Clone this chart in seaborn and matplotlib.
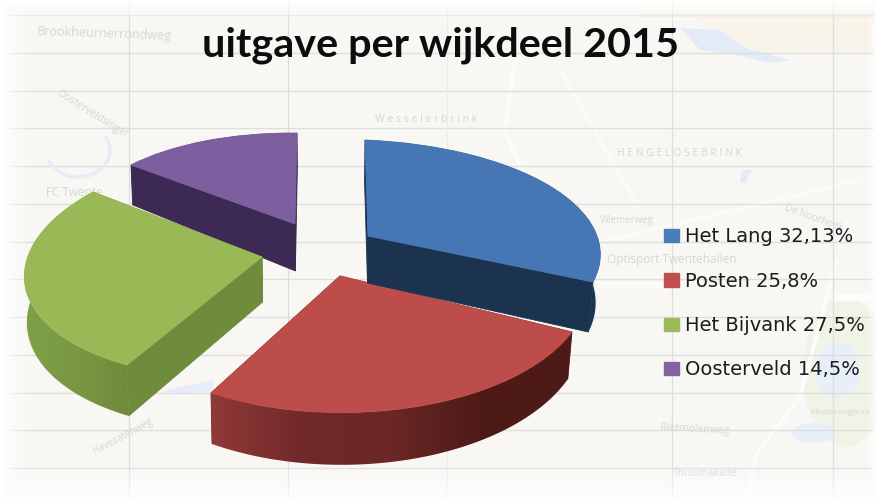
import numpy as np
import matplotlib
matplotlib.use("Agg")
import matplotlib.pyplot as plt
from matplotlib.patches import Ellipse, Polygon
from matplotlib.transforms import Transform
from matplotlib.colors import to_rgb, LinearSegmentedColormap
import seaborn as sns

# ---- data ----
wijken = ["Het Lang", "Posten", "Het Bijvank", "Oosterveld"]
aandeel = [32.13, 25.8, 27.5, 14.5]
aandeel_tekst = ["32,13%", "25,8%", "27,5%", "14,5%"]
titel = "uitgave per wijkdeel 2015"

# ---- styles ----
top_colors = ["#4776b4", "#bd4d4a", "#98b955", "#7d5fa0"]
legend_colors = ["#4a7ebb", "#c0504d", "#9bbb59", "#8064a2"]
wall_stops = [["#1c3556", "#1c3556"],
              ["#8f3a38", "#72292a", "#6a2726", "#4e1a17", "#4e1a17"],
              ["#7f9f48", "#7a9843", "#6f8b3c"],
              ["#3d2a54", "#3d2a54"]]
radial_colors = ["#1c3350", "#6a2826", "#6f8b3c", "#3d2a54"]
# perspective anchors in pixels: apex, arc start (theta2), arc end (theta1), arc middle
anchors = [[(368, 236), (365, 140), (593, 282), (548, 185)],
           [(340, 276), (572, 332), (211, 393), (420, 406)],
           [(262, 257), (127, 365), (93, 192), (25, 285)],
           [(295, 224), (131, 165), (297, 133), (205, 141)]]
depth_par = [(47, 236, 0.065), (51, 393, 0.065), (45, 257, 0.055), (47, 224, 0.12)]
draw_order = [3, 2, 1, 0]
map_labels = [("W e s s e l e r b r i n k", 375, 119, 0, 7.5), ("Brookheurnerrondweg", 37, 32, -2, 9),
              ("Oosterveldsingel", 57, 92, -32, 7.5), ("FC Twente", 46, 193, 0, 8.5),
              ("Optisport Twentehallen", 607, 260, 0, 8.5), ("H E N G E L O S E B R I N K", 617, 154, 0, 7.5),
              ("Rietmolenweg", 660, 428, -3, 7.5), ("Afvalbrengpunt", 810, 413, 0, 6),
              ("Havezatenweg", 93, 452, 28, 7), ("Wiemerweg", 600, 220, 0, 7),
              ("Thuismakade", 673, 474, 0, 7.5), ("De Noorhoek", 785, 208, -20, 7)]

sns.set_theme(style="white")
plt.rcParams["font.family"] = ["DejaVu Sans"]
W, H = 877, 503
fig = plt.figure(figsize=(W / 100, H / 100), dpi=100)
ax = fig.add_axes([0, 0, 1, 1])


class Homography(Transform):
    input_dims = output_dims = 2

    def __init__(self, m):
        super().__init__()
        self.m = m

    def transform_non_affine(self, xy):
        xy = np.asarray(xy, float)
        p = np.c_[xy, np.ones(len(xy))] @ self.m.T
        return p[:, :2] / p[:, 2:3]


def solve_h(src, dst):
    A, b = [], []
    for (x, y), (u, v) in zip(src, dst):
        A.append([x, y, 1, 0, 0, 0, -u * x, -u * y]); b.append(u)
        A.append([0, 0, 0, x, y, 1, -v * x, -v * y]); b.append(v)
    return np.r_[np.linalg.solve(np.array(A), np.array(b)), 1].reshape(3, 3)


# ---- slices from the values ----
wedges, _ = ax.pie(aandeel, startangle=90, counterclock=False, colors=top_colors,
                   wedgeprops=dict(linewidth=0.6), normalize=True)
ax.set_aspect("auto")
ax.set_xlim(0, W)
ax.set_ylim(H, 0)
ax.axis("off")

# ---- background ----
bg = np.ones((H, W, 3)) * np.array(to_rgb("#f8f7f4"))
ax.imshow(bg, extent=(0, W, H, 0), aspect="auto", zorder=0)
# pale map areas
ax.fill([690, 877, 877, 760], [16, 16, 52, 52], color="#f9f4e9", lw=0, zorder=0.5)
ax.fill([640, 877, 877, 640], [13, 13, 19, 17], color="#f8ecd8", lw=0, zorder=0.6)
ax.fill([680, 720, 745, 790, 770, 735, 700], [28, 30, 48, 60, 63, 55, 50], color="#e3ebf7", lw=0, zorder=0.6)
ax.fill([742, 752, 745, 740], [170, 170, 183, 183], color="#e3ebf7", lw=0, zorder=0.6)
ax.add_patch(Ellipse((845, 372), 84, 150, color="#f0f4e6", lw=0, zorder=0.6))
ax.add_patch(Ellipse((838, 370), 44, 56, color="#e7eff8", lw=0, zorder=0.7))
ax.add_patch(Ellipse((813, 433), 42, 20, color="#e7eff8", lw=0, zorder=0.7))
ax.fill([163, 213, 213, 175], [391, 380, 392, 393], color="#e6edf8", lw=0, zorder=0.6)
# light roads
for xs, ys, lw in [([600, 670], [285, 285], 5), ([835, 877], [297, 297], 5),
                   ([515, 505, 530], [60, 130, 190], 3),
                   ([757, 800, 837], [453, 397, 260], 3), ([757, 745], [453, 503], 3),
                   ([610, 860], [240, 180], 1.5), ([560, 640], [70, 210], 1.5)]:
    ax.plot(xs, ys, color="#fcfcfb", lw=lw, zorder=0.8)
for y in [15, 53, 91, 128, 166, 204, 242, 279, 317, 355, 393, 430, 468]:
    ax.plot([0, W], [y, y], color="#dedede", lw=1.0, zorder=1)
for x, c in [(129, "#dcdce0"), (288, "#dcdce0"), (447, "#ebebec"), (672, "#dedee2"), (833, "#dedee2")]:
    ax.plot([x, x], [0, H], color=c, lw=0.9, zorder=1)
th = np.linspace(-0.5, 2.7, 40)
ax.plot(78 + 32 * np.cos(th), 150 + 27 * np.sin(th), color="#e7ecf4", lw=2.5, zorder=1)
for txt, x, y, r, fs in map_labels:
    ax.text(x, y, txt, color="#d6d6d6", fontsize=fs, rotation=r, va="center", zorder=1,
            rotation_mode="anchor", family=["Open Sans", "DejaVu Sans"])

# white vignette round the picture
yy, xx = np.mgrid[0:H, 0:W]
edge = np.minimum.reduce([xx / 32.0, (W - 1 - xx) / 10.0, yy / 24.0, (H - 1 - yy) / 40.0])
rgba = np.ones((H, W, 4))
rgba[..., 3] = 1 - np.clip(edge, 0, 1) ** 0.8
ax.imshow(rgba, extent=(0, W, H, 0), aspect="auto", zorder=2)
ax.set_xlim(0, W)
ax.set_ylim(H, 0)

# ---- extrude each slice ----
for rank, i in enumerate(draw_order):
    w = wedges[i]
    base_z = 5 + 2 * rank
    a1, a2 = np.radians(w.theta1), np.radians(w.theta2)
    am = (a1 + a2) / 2
    src = [(0, 0), (np.cos(a2), np.sin(a2)), (np.cos(a1), np.sin(a1)), (np.cos(am), np.sin(am))]
    hom = Homography(solve_h(src, anchors[i]))
    d0, y0, k = depth_par[i]

    def drop(p):
        p = np.atleast_2d(p)
        d = d0 + k * (p[:, 1] - y0)
        shift = np.where(p[:, 0] < 340, 0.008, 0.018)
        return np.c_[p[:, 0] + (340 - p[:, 0]) * shift, p[:, 1] + d]

    angs = np.radians(np.linspace(w.theta1, w.theta2, 121))
    pts = hom.transform_non_affine(np.c_[np.cos(angs), np.sin(angs)])
    low = drop(pts)
    apex = np.array(anchors[i][0], float)[None, :]
    # flat faces along the cuts
    for end in (pts[0], pts[-1]):
        e = end[None, :]
        quad = np.vstack([apex, e, drop(e), drop(apex)])
        ax.fill(quad[:, 0], quad[:, 1], color=radial_colors[i], lw=0.6, zorder=base_z - 0.5)
    # curved outer wall with a left-to-right gradient
    x0, x1 = min(pts[:, 0].min(), low[:, 0].min()), max(pts[:, 0].max(), low[:, 0].max())
    y0w, y1w = pts[:, 1].min(), low[:, 1].max()
    cmap = LinearSegmentedColormap.from_list(f"wall{i}", wall_stops[i])
    im = ax.imshow(np.linspace(0, 1, 256)[None, :], cmap=cmap, extent=(x0, x1, y1w, y0w),
                   aspect="auto", zorder=base_z, interpolation="bilinear")
    im.set_clip_path(Polygon(np.vstack([pts, low[::-1]]), closed=True, transform=ax.transData))
    w.set_transform(hom + ax.transData)
    w.set_edgecolor(top_colors[i])
    w.set_zorder(base_z + 1)
    w.set_clip_on(False)
ax.set_xlim(0, W)
ax.set_ylim(H, 0)

# ---- title and legend ----
ax.text(440.5, 45, titel, fontsize=29.8, fontweight="bold", family=["Lato", "DejaVu Sans"],
        color="#0d0d0d", ha="center", va="center", zorder=30)
labels = [f"{n} {p}" for n, p in zip(wijken, aandeel_tekst)]
handles = [plt.Rectangle((0, 0), 1, 1, color=c) for c in legend_colors]
leg = ax.legend(handles, labels, loc="upper left", bbox_to_anchor=(664, 227.5),
                bbox_transform=ax.transData, frameon=False, prop=dict(size=14),
                handlelength=0.77, handleheight=0.69, handletextpad=0.33, labelspacing=1.3,
                borderpad=0, borderaxespad=0, labelcolor="#1c1c1c")
leg.set_zorder(30)

fig.savefig("out.png", dpi=100)
